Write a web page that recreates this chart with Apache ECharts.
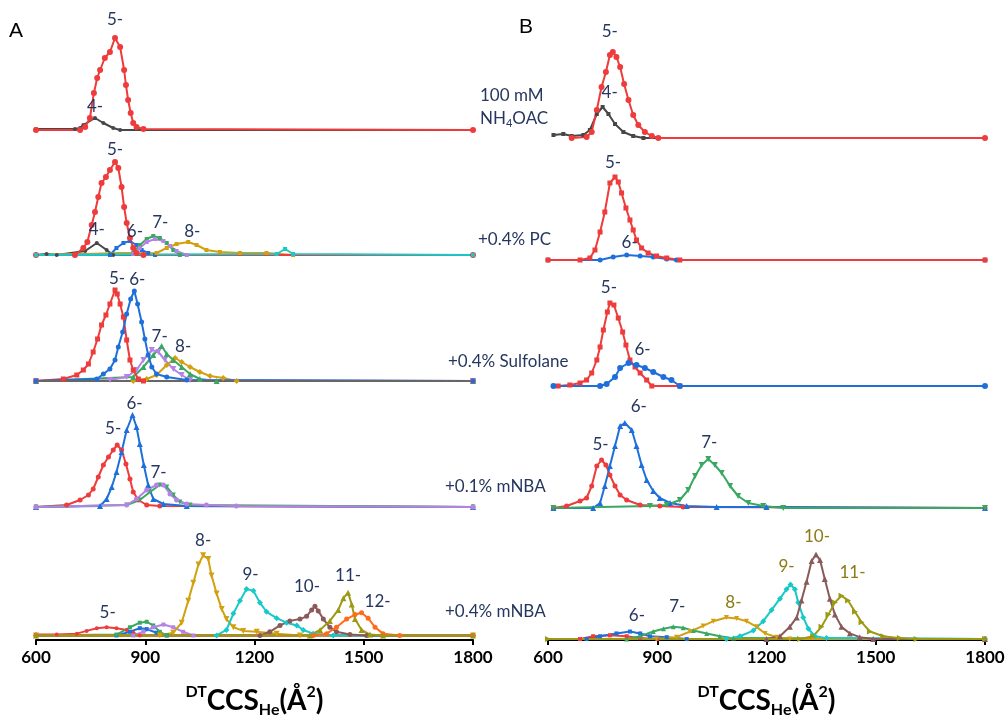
<!DOCTYPE html>
<html><head><meta charset="utf-8">
<script src="https://cdn.jsdelivr.net/npm/echarts@6/dist/echarts.min.js"></script>
<style>html,body{margin:0;background:#fff}#c{width:1008px;height:719px}</style>
</head><body><div id="c"></div><script>
// ---------- tick labels ----------
const xTicks = [600, 900, 1200, 1500, 1800];

// ---------- Panel A (relative intensity, [CCS, intensity]) ----------
const A1_black4 = [[600,1],[707,1],[721,2],[730,5],[762,12],[785,7],[812,2],[831,0],[1800,0]];
const A1_red5 = [[600,0],[721,0],[735,3],[748,12],[759,37],[768,52],[776,60],[789,72],[803,78],[817,92],[831,83],[842,60],[847,45],[853,30],[860,17],[867,7],[876,3],[895,1],[1800,0]];

const A2_black4 = [[600,0],[629,1],[657,0],[735,4],[767,12],[794,5],[812,0],[1800,0]];
const A2_red5 = [[600,0],[707,0],[730,7],[741,13],[753,30],[762,43],[771,58],[780,72],[792,78],[803,85],[817,93],[826,87],[835,68],[842,48],[849,32],[858,17],[867,7],[876,2],[895,0],[1800,0]];
const A2_blue6 = [[600,0],[803,0],[821,7],[840,12],[858,14],[876,10],[890,5],[908,2],[927,0],[1800,0]];
const A2_green7 = [[600,0],[867,2],[885,10],[904,16],[922,19],[940,17],[959,12],[977,5],[995,0],[1800,0]];
const A2_purple7 = [[600,0],[867,1],[885,7],[904,13],[927,16],[950,14],[968,9],[986,4],[1014,0],[1800,0]];
const A2_gold8 = [[600,0],[931,2],[959,7],[986,11],[1018,13],[1041,10],[1068,5],[1105,3],[1160,2],[1233,2],[1306,0],[1800,0]];
const A2_cyan = [[600,0],[1261,1],[1284,6],[1306,1],[1800,0]];

const A3_red5 = [[600,0],[675,2],[712,6],[730,11],[744,17],[757,29],[769,42],[780,56],[792,66],[803,77],[817,91],[823,87],[831,77],[840,64],[849,41],[858,21],[867,11],[881,2],[895,0],[1800,0]];
const A3_blue6 = [[600,0],[767,2],[785,7],[803,12],[817,21],[826,34],[838,49],[849,67],[860,82],[870,90],[879,77],[890,59],[899,42],[908,26],[918,14],[931,7],[959,4],[1014,1],[1800,0]];
const A3_purple7 = [[600,0],[803,1],[849,4],[876,11],[895,21],[918,31],[936,29],[954,21],[977,12],[1000,6],[1023,1],[1800,0]];
const A3_green7 = [[600,0],[867,4],[895,14],[922,26],[945,35],[959,27],[977,21],[1000,14],[1023,7],[1050,2],[1096,0],[1800,0]];
const A3_gold8 = [[600,0],[867,0],[904,2],[931,6],[959,16],[982,23],[1000,19],[1023,14],[1050,9],[1078,5],[1114,3],[1151,0],[1800,0]];
const A3_gray = [[600,0],[1800,0]];

const A4_red5 = [[600,0],[684,2],[721,7],[744,12],[757,18],[771,30],[785,42],[799,50],[812,57],[823,62],[835,57],[847,43],[858,28],[867,15],[881,7],[904,2],[940,1],[1800,0]];
const A4_blue6 = [[600,0],[776,1],[794,8],[808,20],[821,35],[835,55],[849,77],[865,92],[876,80],[885,63],[896,42],[908,22],[922,8],[950,3],[1014,1],[1800,0]];
const A4_green7 = [[600,0],[849,2],[885,7],[913,15],[940,22],[959,20],[977,12],[995,5],[1023,2],[1800,0]];
const A4_purple7 = [[600,0],[849,2],[876,8],[904,17],[931,22],[950,22],[968,13],[986,7],[1014,3],[1068,2],[1150,1],[1800,0]];

const A5_red5 = [[600,1],[657,1],[712,2],[739,5],[767,8],[794,9],[821,8],[849,6],[867,3],[885,0],[1800,0]];
const A5_green = [[600,0],[821,1],[858,9],[885,14],[904,15],[922,11],[940,4],[959,0],[1800,0]];
const A5_blue = [[600,0],[821,0],[858,4],[885,8],[904,7],[931,3],[959,0],[1800,0]];
const A5_purple = [[600,0],[867,0],[895,4],[922,9],[950,12],[977,9],[1004,4],[1032,0],[1800,0]];
const A5_gold8 = [[600,0],[940,0],[977,3],[1000,14],[1018,38],[1032,58],[1046,78],[1059,88],[1073,84],[1082,66],[1096,46],[1110,29],[1123,18],[1142,9],[1169,5],[1206,4],[1261,2],[1325,0],[1800,0]];
const A5_cyan9 = [[600,0],[1096,0],[1123,6],[1142,24],[1160,38],[1178,51],[1197,49],[1215,36],[1233,26],[1261,19],[1288,14],[1316,11],[1334,6],[1361,2],[1416,0],[1800,0]];
const A5_brown10 = [[600,0],[1215,0],[1242,4],[1270,11],[1297,16],[1325,18],[1343,21],[1357,28],[1366,32],[1375,27],[1389,18],[1407,9],[1425,4],[1462,1],[1508,0],[1800,0]];
const A5_olive11 = [[600,0],[1352,0],[1380,6],[1407,16],[1430,28],[1444,41],[1457,47],[1467,34],[1476,18],[1494,6],[1517,1],[1553,0],[1800,0]];
const A5_orange12 = [[600,0],[1361,0],[1398,2],[1425,9],[1453,18],[1476,23],[1494,25],[1512,19],[1531,9],[1553,2],[1599,0],[1800,0]];

// ---------- Panel B ----------
const B1_black4 = [[615,3],[642,4],[665,2],[697,3],[715,8],[734,24],[750,31],[766,24],[784,14],[807,6],[834,2],[862,0],[1800,0]];
const B1_red5 = [[665,0],[706,1],[720,6],[734,28],[747,51],[759,66],[770,83],[778,86],[788,81],[798,71],[809,54],[821,38],[834,23],[848,13],[866,6],[885,2],[903,0],[1800,0]];

const B2_blue6 = [[600,0],[743,0],[779,3],[816,5],[853,4],[889,3],[926,1],[953,0],[1800,0]];
const B2_red5 = [[600,0],[688,0],[715,2],[729,10],[743,28],[756,48],[770,77],[784,83],[793,78],[802,67],[814,52],[825,40],[834,30],[843,20],[857,12],[875,7],[898,4],[926,2],[962,0],[1800,0]];

const B3_blue6 = [[615,0],[743,0],[761,2],[784,9],[798,18],[821,23],[843,21],[866,18],[889,14],[917,9],[939,6],[962,0],[1800,0]];
const B3_red5 = [[628,0],[660,1],[688,3],[706,6],[720,13],[734,26],[743,39],[752,56],[763,74],[770,83],[781,81],[793,68],[805,54],[814,41],[825,26],[839,19],[853,13],[871,6],[885,0],[962,0]];

const B4_red5 = [[615,0],[651,2],[688,7],[706,10],[720,22],[734,42],[747,48],[759,43],[770,33],[784,22],[798,13],[816,8],[853,3],[907,2],[971,1],[1800,0]];
const B4_blue6 = [[615,0],[724,0],[743,5],[756,22],[770,42],[784,62],[798,82],[811,85],[830,78],[843,62],[857,43],[871,28],[889,17],[907,10],[935,5],[981,2],[1063,1],[1200,1],[1800,0]];
const B4_green7 = [[615,0],[880,2],[926,3],[962,8],[985,18],[1004,32],[1022,43],[1040,49],[1058,43],[1077,35],[1100,22],[1122,12],[1150,5],[1191,2],[1246,0],[1800,0]];

const B5_red = [[688,0],[724,3],[770,4],[816,3],[853,1],[900,0],[1800,0]];
const B5_blue6 = [[706,0],[743,3],[788,6],[825,8],[853,6],[880,3],[926,2],[981,0],[1800,0]];
const B5_green7 = [[816,0],[853,3],[889,8],[917,11],[944,13],[971,12],[999,9],[1036,6],[1072,3],[1109,1],[1800,0]];
const B5_gold8 = [[898,0],[953,2],[990,8],[1026,14],[1054,19],[1090,23],[1118,22],[1145,19],[1173,13],[1196,6],[1228,2],[1264,0],[1800,0]];
const B5_cyan9 = [[1090,0],[1127,3],[1164,9],[1191,19],[1214,31],[1237,43],[1255,53],[1266,58],[1278,53],[1287,39],[1301,23],[1315,11],[1333,3],[1365,1],[1800,0]];
const B5_brown10 = [[1200,0],[1237,3],[1264,13],[1283,23],[1296,41],[1310,61],[1324,83],[1336,90],[1347,84],[1360,64],[1374,43],[1388,26],[1406,13],[1429,6],[1456,2],[1493,0],[1800,0]];
const B5_olive11 = [[600,0],[1292,0],[1328,3],[1351,13],[1370,26],[1388,39],[1406,46],[1424,41],[1443,29],[1461,18],[1484,8],[1521,3],[1566,1],[1612,0],[1800,0]];

// ---------- styling ----------
const COL = {red:'#EE3B3B', black:'#474747', blue:'#1F6FDB', green:'#3BA862', purple:'#B483E6', gold:'#D3A010',
  cyan:'#19C8C8', brown:'#8A5A5A', olive:'#9C9A12', orange:'#FF6B1A', gray:'#666666'};
const NAVY = '#26375F', OLIVE_TXT = '#8C7A16';
const FONT = 'Lato';

const panels = [
 {left:36, rows:[
  {top:30, ymin:0, s:[
    {d:A1_black4,c:'black',sym:'circle',sz:4,lab:'4-',off:[0,-11]},
    {d:A1_red5,c:'red',sym:'circle',sz:6,lab:'5-',off:[0,-18]}]},
  {top:155, ymin:0, s:[
    {d:A2_black4,c:'black',sym:'circle',sz:4,lab:'4-',off:[0,-13]},
    {d:A2_blue6,c:'blue',sym:'rect',sz:4,lab:'6-',off:[5,-9]},
    {d:A2_green7,c:'green',sym:'rect',sz:4,lab:'7-',off:[7,-13]},
    {d:A2_purple7,c:'purple',sym:'rect',sz:4},
    {d:A2_gold8,c:'gold',sym:'rect',sz:4,lab:'8-',off:[4,-10]},
    {d:A2_red5,c:'red',sym:'circle',sz:6,lab:'5-',off:[0,-12]},
    {d:A2_cyan,c:'cyan',sym:'rect',sz:4}]},
  {top:281, ymin:0, s:[
    {d:A3_gold8,c:'gold',sym:'diamond',sz:6,lab:'8-',off:[8,-11]},
    {d:A3_green7,c:'green',sym:'triangle',sz:6,lab:'7-',off:[-2,-9]},
    {d:A3_purple7,c:'purple',sym:'triangle',sz:6,rot:180},
    {d:A3_red5,c:'red',sym:'rect',sz:5,lab:'5-',off:[2,-11]},
    {d:A3_blue6,c:'blue',sym:'circle',sz:5,lab:'6-',off:[3,-11]},
    {d:A3_gray,c:'gray',sym:'none',sz:0}]},
  {top:407, ymin:0, s:[
    {d:A4_red5,c:'red',sym:'circle',sz:5,lab:'5-',off:[-4,-16]},
    {d:A4_blue6,c:'blue',sym:'triangle',sz:6,lab:'6-',off:[2,-11]},
    {d:A4_green7,c:'green',sym:'triangle',sz:5,rot:180},
    {d:A4_purple7,c:'purple',sym:'circle',sz:5,lab:'7-',off:[2,-12]}]},
  {top:549, ymin:-5, s:[
    {d:A5_red5,c:'red',sym:'circle',sz:4,lab:'5-',off:[1,-15]},
    {d:A5_blue,c:'blue',sym:'rect',sz:4},
    {d:A5_green,c:'green',sym:'rect',sz:4},
    {d:A5_purple,c:'purple',sym:'rect',sz:4},
    {d:A5_gold8,c:'gold',sym:'triangle',sz:6,rot:180,lab:'8-',off:[0,-15]},
    {d:A5_cyan9,c:'cyan',sym:'diamond',sz:6,lab:'9-',off:[4,-15]},
    {d:A5_brown10,c:'brown',sym:'circle',sz:5,lab:'10-',off:[-8,-20]},
    {d:A5_orange12,c:'orange',sym:'circle',sz:5,lab:'12-',off:[16,-11]},
    {d:A5_olive11,c:'olive',sym:'triangle',sz:6,lab:'11-',off:[0,-17]}]}
 ]},
 {left:548, rows:[
  {top:38, ymin:0, s:[
    {d:B1_black4,c:'black',sym:'rect',sz:4,lab:'4-',off:[7,-14]},
    {d:B1_red5,c:'red',sym:'circle',sz:6,lab:'5-',off:[-3,-20]}]},
  {top:160, ymin:0, s:[
    {d:B2_blue6,c:'blue',sym:'circle',sz:5,lab:'6-',off:[3,-12]},
    {d:B2_red5,c:'red',sym:'rect',sz:5,lab:'5-',off:[-2,-14]}]},
  {top:286, ymin:0, s:[
    {d:B3_red5,c:'red',sym:'rect',sz:5,lab:'5-',off:[-1,-15]},
    {d:B3_blue6,c:'blue',sym:'circle',sz:6,lab:'6-',off:[14,-13]}]},
  {top:408, ymin:0, s:[
    {d:B4_red5,c:'red',sym:'circle',sz:5,lab:'5-',off:[-1,-15]},
    {d:B4_blue6,c:'blue',sym:'triangle',sz:6,lab:'6-',off:[14,-16]},
    {d:B4_green7,c:'green',sym:'triangle',sz:6,rot:180,lab:'7-',off:[1,-16]}]},
  {top:546, ymin:-1, s:[
    {d:B5_red,c:'red',sym:'rect',sz:4},
    {d:B5_blue6,c:'blue',sym:'rect',sz:4,lab:'6-',off:[7,-16]},
    {d:B5_green7,c:'green',sym:'triangle',sz:5,lab:'7-',off:[4,-20]},
    {d:B5_gold8,c:'gold',sym:'triangle',sz:5,rot:180,lab:'8-',off:[7,-15],lc:OLIVE_TXT},
    {d:B5_cyan9,c:'cyan',sym:'diamond',sz:6,lab:'9-',off:[-4,-18],lc:OLIVE_TXT},
    {d:B5_brown10,c:'brown',sym:'triangle',sz:6,lab:'10-',off:[1,-18],lc:OLIVE_TXT},
    {d:B5_olive11,c:'olive',sym:'triangle',sz:6,rot:-90,lab:'11-',off:[11,-23],lc:OLIVE_TXT}]}
 ]}
];

const grid=[], xAxis=[], yAxis=[], series=[];
let gi = 0;
panels.forEach(p => p.rows.forEach((r, ri) => {
  const bottom = ri === p.rows.length - 1;
  grid.push({left:p.left, top:r.top, width:437, height:100});
  xAxis.push({type:'value', gridIndex:gi, min:xTicks[0], max:xTicks[xTicks.length-1], interval:300,
    show:bottom, splitLine:{show:false},
    axisLine:{show:true, onZero:false, lineStyle:{color:'#000', width:2}},
    axisTick:{show:true, length:5, lineStyle:{color:'#000', width:2}},
    axisLabel:{color:'#000', fontSize:17, fontWeight:'bold', fontFamily:FONT, margin:9,
      formatter: v => String(v)},
    name:'{sup|DT}{big|CCS}{sub|He}{big|(Å}{sup|2}{big|)}', nameLocation:'middle', nameGap:44,
    nameTextStyle:{rich:{
      big:{fontSize:28, fontWeight:'bold', fontFamily:FONT, color:'#000', lineHeight:34},
      sup:{fontSize:16, fontWeight:'bold', fontFamily:FONT, color:'#000', verticalAlign:'top', padding:[0,0,14,0]},
      sub:{fontSize:16, fontWeight:'bold', fontFamily:FONT, color:'#000', verticalAlign:'bottom', padding:[12,0,0,0]}
    }}
  });
  yAxis.push({type:'value', gridIndex:gi, min:r.ymin, max:r.ymin+100, show:false, splitLine:{show:false}});
  r.s.forEach(s => {
    const ser = {type:'line', xAxisIndex:gi, yAxisIndex:gi, data:s.d, symbol:s.sym, symbolSize:s.sz,
      symbolRotate:s.rot||0, showAllSymbol:true,
      lineStyle:{color:COL[s.c], width:2}, itemStyle:{color:COL[s.c]}};
    if (s.lab) {
      ser.markPoint = {symbol:'circle', symbolSize:1, itemStyle:{color:'rgba(0,0,0,0)'}, silent:true,
        data:[{type:'max', valueDim:'y'}],
        label:{show:true, position:'inside', offset:s.off, formatter:s.lab,
          color:s.lc||NAVY, fontSize:17, fontFamily:FONT}};
    }
    series.push(ser);
  });
  gi++;
}));

const txt = (x, y, t) => ({type:'text', x:x, y:y, style:{text:t, fill:NAVY, fontSize:17, fontFamily:FONT, verticalAlign:'middle', align:'left'}});
const graphic = [
  {type:'text', x:9, y:31, style:{text:'A', fill:'#000', fontSize:21, fontFamily:'Liberation Sans', verticalAlign:'middle'}},
  {type:'text', x:519, y:27, style:{text:'B', fill:'#000', fontSize:21, fontFamily:'Liberation Sans', verticalAlign:'middle'}},
  txt(480, 96, '100 mM'),
  {type:'text', x:480, y:119, style:{text:'{a|NH}{s|4}{a|OAC}', verticalAlign:'middle', align:'left',
    rich:{a:{fill:NAVY, fontSize:17, fontFamily:FONT, lineHeight:20}, s:{fill:NAVY, fontSize:11, fontFamily:FONT, verticalAlign:'bottom', padding:[7,0,0,0]}}}},
  txt(478, 240, '+0.4% PC'),
  txt(448, 362, '+0.4% Sulfolane'),
  txt(445, 487, '+0.1% mNBA'),
  txt(445, 612, '+0.4% mNBA')
];

const chart = echarts.init(document.getElementById('c'));
chart.setOption({animation:false, backgroundColor:'#fff', grid, xAxis, yAxis, series, graphic});
</script></body></html>
